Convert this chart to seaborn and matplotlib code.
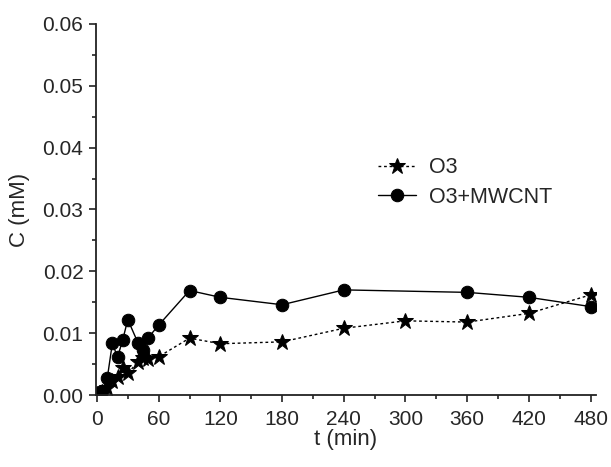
import matplotlib
matplotlib.use('Agg')
import matplotlib.pyplot as plt
import seaborn as sns
from matplotlib.ticker import MultipleLocator

# time (min) and concentration (mM)
t_o3 = [0, 5, 10, 15, 20, 25, 30, 40, 45, 50, 60, 90, 120, 180, 240, 300, 360, 420, 480]
c_o3 = [0.0002, 0.0005, 0.0011, 0.0022, 0.0030, 0.0043, 0.0035, 0.0054, 0.0060, 0.0058, 0.0062,
        0.0092, 0.0083, 0.0086, 0.0108, 0.0120, 0.0118, 0.0132, 0.0162]

t_cnt = [0, 5, 10, 15, 20, 25, 30, 40, 45, 50, 60, 90, 120, 180, 240, 360, 420, 480]
c_cnt = [0.0003, 0.0006, 0.0027, 0.0084, 0.0061, 0.0089, 0.0122, 0.0084, 0.0073, 0.0093, 0.0113,
         0.0169, 0.0158, 0.0146, 0.0170, 0.0166, 0.0158, 0.0143]

sns.set_style('ticks')
plt.rcParams['font.family'] = ['Liberation Sans', 'DejaVu Sans']
plt.rcParams['xtick.direction'] = 'out'
plt.rcParams['ytick.direction'] = 'out'

fig = plt.figure(figsize=(6.11, 4.67), dpi=100)
ax = fig.add_axes([0.157, 0.154, 0.818, 0.795])

sns.lineplot(x=t_o3, y=c_o3, ax=ax, color='black', linestyle=(0, (2, 2)), linewidth=1,
             marker='*', markersize=12, markeredgecolor='black', markerfacecolor='black',
             sort=False, estimator=None, label='O3')
sns.lineplot(x=t_cnt, y=c_cnt, ax=ax, color='black', linestyle='-', linewidth=1,
             marker='o', markersize=9, markeredgecolor='black', markerfacecolor='black',
             sort=False, estimator=None, label='O3+MWCNT')

ax.set_xlim(-1, 485)
ax.set_ylim(0, 0.06)
ax.xaxis.set_major_locator(MultipleLocator(60))
ax.xaxis.set_minor_locator(MultipleLocator(30))
ax.yaxis.set_major_locator(MultipleLocator(0.01))
ax.yaxis.set_minor_locator(MultipleLocator(0.005))
ax.yaxis.set_major_formatter(plt.FuncFormatter(lambda v, p: f'{v:.2f}'))

for side in ['left', 'bottom']:
    ax.spines[side].set_linewidth(1.3)
    ax.spines[side].set_color('#222222')
sns.despine(ax=ax)
ax.tick_params(which='major', length=5, width=1.2, labelsize=15, color='#222222', pad=4)
ax.tick_params(axis='x', which='major', pad=6)
ax.tick_params(which='minor', length=3, width=1.2, color='#222222')

ax.set_xlabel('t (min)', fontsize=16, labelpad=0)
ax.set_ylabel('C (mM)', fontsize=16, labelpad=9)

ax.legend(loc='center left', bbox_to_anchor=(0.525, 0.573), frameon=False, fontsize=15.5,
          handlelength=1.8, handletextpad=0.6, labelspacing=0.4)

fig.savefig('out.png', dpi=100)
